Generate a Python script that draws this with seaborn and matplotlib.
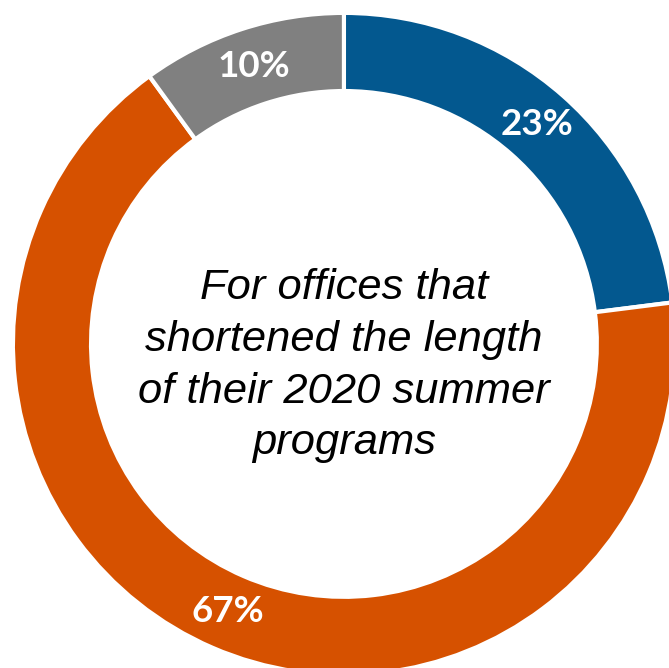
import matplotlib
matplotlib.use("Agg")
import matplotlib.pyplot as plt
import seaborn as sns

sns.set_theme(style="white")
plt.rcParams["font.family"] = ["Liberation Sans", "DejaVu Sans"]

# Share of offices, clockwise from the top
categories = ["Blue share", "Orange share", "Grey share"]
values = [23, 67, 10]
colors = ["#03588F", "#D65100", "#808080"]
center_text = "For offices that\nshortened the length\nof their 2020 summer\nprograms"

fig = plt.figure(figsize=(6.69, 6.68), dpi=100)
ax = fig.add_axes([0, 0, 1, 1])

ring_width = 0.236
wedges, texts, autotexts = ax.pie(
    values,
    colors=colors,
    startangle=90,
    counterclock=False,
    radius=1.0,
    wedgeprops=dict(width=ring_width, edgecolor="white", linewidth=3),
    autopct=lambda p: f"{p:.0f}%",
    pctdistance=1 - ring_width / 2,
    textprops=dict(color="white", fontsize=26.5, fontweight="bold", family=["Lato", "DejaVu Sans"]),
)

ax.text(0, -0.066, center_text, ha="center", va="center", fontsize=31.3,
        style="italic", color="black", linespacing=1.38)

ax.set_xlim(-1.039, 0.982)
ax.set_ylim(-0.979, 1.039)
ax.set_aspect("equal")
ax.axis("off")

fig.savefig("out.png", dpi=100, facecolor="white")
